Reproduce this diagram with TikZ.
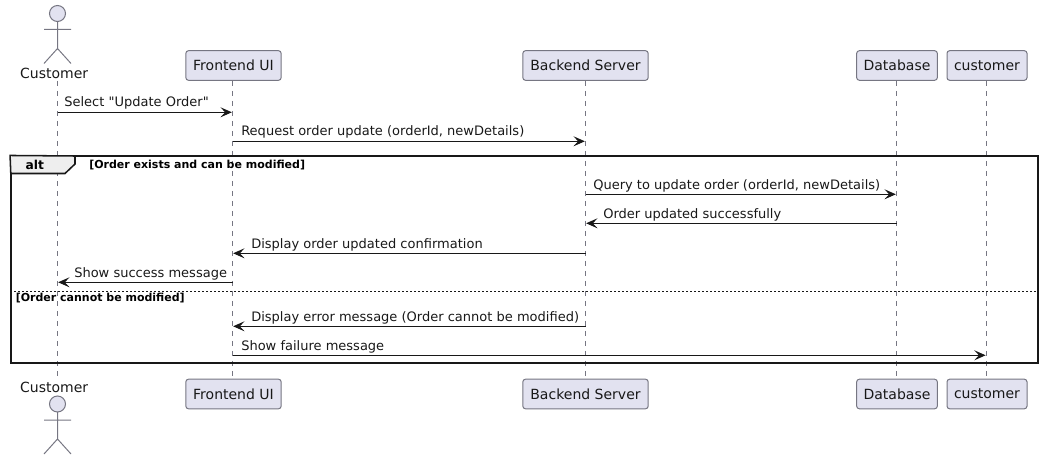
\documentclass[tikz,border=0pt]{standalone}
\usepackage{fontspec}
\setmainfont{DejaVu Sans}
\newfontfamily\msgfont{DejaVu Sans}[Ligatures=ResetAll]
\usetikzlibrary{shapes, arrows.meta, positioning, calc}
\definecolor{partfill}{RGB}{226, 226, 240}
\definecolor{partline}{RGB}{118, 118, 130}
\definecolor{tabfill}{RGB}{238, 238, 238}
\definecolor{inkdark}{RGB}{24, 24, 24}
\tikzset{
  part/.style={draw=partline, fill=partfill, rounded corners=2pt, line width=0.75pt,
    minimum height=22.2pt, inner sep=0pt, text=inkdark, font=\fontsize{10.5pt}{12pt}\selectfont},
  actorname/.style={inner sep=0pt, text=inkdark, font=\fontsize{10.5pt}{12pt}\selectfont},
  lifeline/.style={draw=partline, line width=0.6pt, dash pattern=on 3.75pt off 3.75pt},
  limb/.style={draw=partline, line width=0.75pt},
  msg/.style={draw=inkdark, line width=0.8pt, -{Stealth[length=8.5pt, width=7.5pt, inset=3.5pt]}, shorten >=0.5pt},
  msgtext/.style={above, inner sep=0pt, text=inkdark, font=\msgfont\fontsize{9.76pt}{12pt}\selectfont},
  guard/.style={inner sep=0pt, anchor=west, text=black, font=\fontsize{8.25pt}{10pt}\selectfont\bfseries},
}
\newcommand{\drawactor}[2]{% x, y of the head centre
  \draw[limb, fill=partfill] (#1,#2) circle (6pt);
  \draw[limb] (#1,#2+8) -- (#1,#2+35) (#1-13.5,#2+16) -- (#1+13.5,#2+16)
    (#1-13.5,#2+50) -- (#1,#2+35) -- (#1+13.5,#2+50);
}
\begin{document}
\begin{tikzpicture}[x=0.75pt, y=-0.75pt]
  \useasboundingbox (0,0) rectangle (1043,460);

  % participants, top row
  \node[actorname] (custTop) at (54.2,73) {Customer};
  \node[part, minimum width=71.5pt] (uiTop) at (233.5,65.5) {Frontend UI};
  \node[part, minimum width=94pt] (srvTop) at (585.5,65.5) {Backend Server};
  \node[part, minimum width=60.5pt] (dbTop) at (897,65.5) {Database};
  \node[part, minimum width=60pt] (custTwoTop) at (987,65.5) {customer};

  % participants, bottom row
  \node[actorname] (custBot) at (54.2,387) {Customer};
  \node[part, minimum width=71.5pt] (uiBot) at (233.5,394) {Frontend UI};
  \node[part, minimum width=94pt] (srvBot) at (585.5,394) {Backend Server};
  \node[part, minimum width=60.5pt] (dbBot) at (897,394) {Database};
  \node[part, minimum width=60pt] (custTwoBot) at (987,394) {customer};

  \coordinate (custA) at (57.5,81);
  \coordinate (custB) at (57.5,377);
  \coordinate (uiLine) at (232.5,0);
  \coordinate (srvLine) at (585.5,0);
  \coordinate (dbLine) at (896.5,0);
  \coordinate (custTwoLine) at (986.3,0);

  % lifelines
  \draw[lifeline] (custA) -- (custB);
  \draw[lifeline] (uiLine |- uiTop.south) -- (uiLine |- uiBot.north);
  \draw[lifeline] (srvLine |- srvTop.south) -- (srvLine |- srvBot.north);
  \draw[lifeline] (dbLine |- dbTop.south) -- (dbLine |- dbBot.north);
  \draw[lifeline] (custTwoLine |- custTwoTop.south) -- (custTwoLine |- custTwoBot.north);

  % actors
  \drawactor{57.5}{13.5}
  \drawactor{57.5}{404}

  % alt frame
  \node[draw=inkdark, line width=1.15pt, minimum width=770.5pt, minimum height=155.2pt,
    inner sep=0pt] (altFrame) at (524.5,259.7) {};
  \draw[draw=inkdark, line width=1.15pt, fill=tabfill] (altFrame.north west)
    -- (75,156) -- (75,164) -- (65,173.5) -- (10.8,173.5) -- cycle;
  \node[inner sep=0pt, text=black, font=\fontsize{9.2pt}{12pt}\selectfont\bfseries] (altTag) at (34.7,165) {alt};
  \node[guard] (guardOk) at (89,165.5) {[Order exists and can be modified]};
  \draw[draw=inkdark, line width=0.75pt, dash pattern=on 1.5pt off 1.5pt]
    (altFrame.west |- 0,291) -- (altFrame.east |- 0,291);
  \node[guard] (guardNo) at (15.5,298) {[Order cannot be modified]};

  % messages
  \foreach \src/\dst/\yy/\tx/\txt in {
    custA/uiLine/112.3/64/{Select "Update Order"},
    uiLine/srvLine/141.3/241/{Request order update (orderId, newDetails)},
    srvLine/dbLine/194.3/593/{Query to update order (orderId, newDetails)},
    dbLine/srvLine/223.3/603/{Order updated successfully},
    srvLine/uiLine/253.3/251/{Display order updated confirmation},
    uiLine/custA/282.3/74/{Show success message},
    srvLine/uiLine/326.3/251/{Display error message (Order cannot be modified)},
    uiLine/custTwoLine/355.3/241/{Show failure message}
  } {
    \draw[msg] (\src |- 0,\yy) -- (\dst |- 0,\yy);
    \node[msgtext, anchor=base west] at (\tx,\yy-5.3) {\txt};
  }
\end{tikzpicture}
\end{document}
